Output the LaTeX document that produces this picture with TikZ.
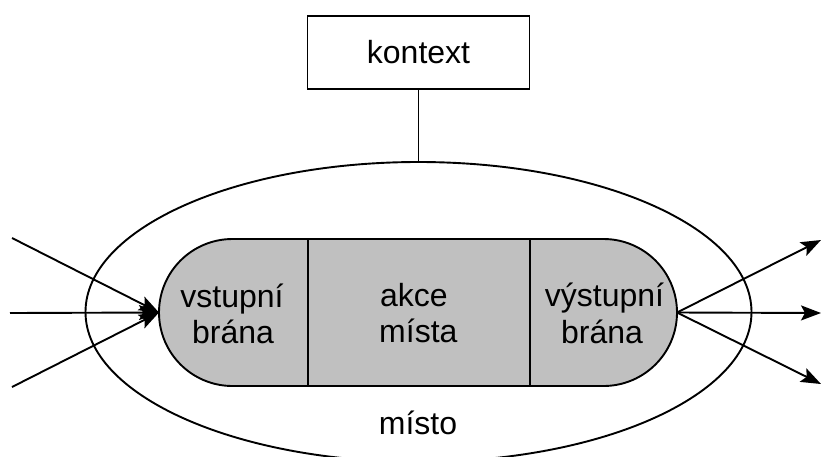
\documentclass[tikz,border=0pt]{standalone}
\usepackage{fontspec}
\setmainfont{Liberation Sans}
\usetikzlibrary{shapes.geometric,shapes.misc,arrows.meta}

\tikzset{
  line/.style={line width=1.9pt, draw=black},
  flow/.style={line, -{Stealth[length=20pt,width=15pt,inset=4pt]}},
  label/.style={font=\fontsize{32}{36}\selectfont, inner sep=0pt, anchor=base},
  gatebar/.style={rounded rectangle, line, fill=gatefill, inner sep=0pt, outer sep=0pt,
    minimum width=518pt, minimum height=147pt},
  placering/.style={ellipse, line, inner sep=0pt, outer sep=0pt,
    minimum width=666pt, minimum height=300pt},
  ctxbox/.style={rectangle, line, inner sep=0pt, outer sep=0pt,
    minimum width=222pt, minimum height=73pt, font=\fontsize{32}{36}\selectfont}
}
\definecolor{gatefill}{RGB}{192,192,192}

\begin{document}
\begin{tikzpicture}[x=1pt, y=-1pt]
  \useasboundingbox (0,0) rectangle (822,456);

  % outer place and its context
  \node[placering] (ring) at (418.5,312) {};
  \node[ctxbox] (ctx) at (418.5,52.5) {kontext};
  \draw[line] (ctx.south) -- (ring.north);

  % gates and action strip
  \node[gatebar] (bar) at (418,312.5) {};
  \coordinate (d1t) at (308,239);
  \coordinate (d1b) at (308,386);
  \coordinate (d2t) at (530,239);
  \coordinate (d2b) at (530,386);
  \draw[line] (d1t) -- (d1b);
  \draw[line] (d2t) -- (d2b);

  % labels
  \node[label] (in1) at (232,307) {vstupní};
  \node[label] (in2) at (233,343) {brána};
  \node[label, anchor=base west] (ac1) at (380,306) {akce};
  \node[label, anchor=base west] (ac2) at (379,342) {místa};
  \node[label] (out1) at (604.5,306) {výstupní};
  \node[label] (out2) at (602,343) {brána};
  \node[label] (pl) at (418,434) {místo};

  % incoming flows
  \coordinate (srcA) at (12,238);
  \coordinate (srcB) at (10,313);
  \coordinate (srcC) at (12,387);
  \draw[flow] (srcA) -- (bar.west);
  \draw[flow] (srcB) -- (bar.west);
  \draw[flow] (srcC) -- (bar.west);

  % outgoing flows
  \coordinate (dstA) at (821,240);
  \coordinate (dstB) at (821,313);
  \coordinate (dstC) at (821,384);
  \draw[flow] (bar.east) -- (dstA);
  \draw[flow] (bar.east) -- (dstB);
  \draw[flow] (bar.east) -- (dstC);
\end{tikzpicture}
\end{document}
